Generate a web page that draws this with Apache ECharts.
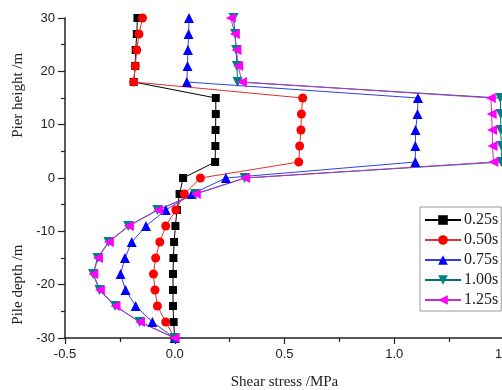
<!DOCTYPE html>
<html>
<head>
<meta charset="utf-8">
<script src="https://cdn.jsdelivr.net/npm/echarts@6/dist/echarts.min.js"></script>
<style>html,body{margin:0;padding:0;background:#fff;}#c{width:502px;height:390px;}</style>
</head>
<body>
<div id="c"></div>
<script>
// Depth / height positions (m)
const depth = [30,27,24,21,18,15,12,9,6,3,0,-3,-6,-9,-12,-15,-18,-21,-24,-27,-30];
// Shear stress (MPa) per time step
const s025 = [-0.170,-0.173,-0.178,-0.180,-0.187, 0.187,0.187,0.186,0.185,0.184, 0.038,0.022,0.010,0.003,-0.003,-0.006,-0.008,-0.008,-0.008,-0.005,0];
const s050 = [-0.147,-0.163,-0.173,-0.180,-0.187, 0.583,0.577,0.575,0.569,0.565, 0.117,0.044,0.005,-0.041,-0.068,-0.087,-0.097,-0.090,-0.079,-0.041,0];
const s075 = [0.065,0.063,0.060,0.058,0.055, 1.108,1.106,1.097,1.096,1.096, 0.233,0.078,-0.041,-0.131,-0.196,-0.227,-0.247,-0.224,-0.178,-0.102,0];
const s100 = [0.268,0.275,0.280,0.283,0.286, 1.483,1.485,1.485,1.488,1.488, 0.318,0.093,-0.079,-0.212,-0.302,-0.352,-0.372,-0.343,-0.272,-0.160,0];
const s125 = [0.255,0.274,0.281,0.289,0.306, 1.440,1.444,1.446,1.448,1.452, 0.321,0.096,-0.076,-0.209,-0.300,-0.350,-0.371,-0.341,-0.270,-0.158,0];
const seriesNames = ['0.25s','0.50s','0.75s','1.00s','1.25s'];
const xTicks = [-0.5, 1.5, 0.5];   // min, max, interval
const yTicks = [-30, 30, 10];

const sets = [s025, s050, s075, s100, s125];
const colors = ['#000000','#ff0000','#0000ff','#008080','#ff00ff'];
const lineColors = ['#000000','#e03030','#3040e0','#007070','#c030d0'];
const symbols = ['rect','circle','triangle','path://M0,0 L10,0 L5,10 Z','path://M0,5 L10,0 L10,10 Z'];
const sizes = [8,9,10,10,10];

const chart = echarts.init(document.getElementById('c'), null, {renderer:'canvas'});
const sans = 'Liberation Sans';
const serif = 'Liberation Serif';

const series = sets.map((arr, i) => ({
  name: seriesNames[i],
  type: 'line',
  data: arr.map((v, k) => [v, depth[k]]),
  symbol: symbols[i],
  symbolSize: sizes[i],
  showAllSymbol: true,
  clip: false,
  itemStyle: {color: colors[i]},
  lineStyle: {color: lineColors[i], width: 1},
  animation: false
}));

chart.setOption({
  animation: false,
  backgroundColor: '#fff',
  grid: {left: 65, right: -2, top: 18, bottom: 52, containLabel: false, outerBoundsMode: 'none'},
  xAxis: {
    type: 'value', min: xTicks[0], max: xTicks[1], interval: xTicks[2],
    axisLine: {show: true, onZero: false, lineStyle: {color: '#222', width: 1.5}},
    axisTick: {show: true, inside: false, length: 6, lineStyle: {color: '#222', width: 1.2}},
    minorTick: {show: true, splitNumber: 2, length: 4, lineStyle: {color: '#222', width: 1.2}},
    splitLine: {show: false},
    axisLabel: {margin: 10, fontFamily: sans, fontSize: 13, color: '#222', formatter: v => v.toFixed(1)},
    name: 'Shear stress /MPa', nameLocation: 'middle', nameGap: 37,
    nameTextStyle: {fontFamily: serif, fontSize: 15, color: '#222'}
  },
  yAxis: {
    type: 'value', min: yTicks[0], max: yTicks[1], interval: yTicks[2],
    axisLine: {show: true, onZero: false, lineStyle: {color: '#222', width: 1.5}},
    axisTick: {show: true, inside: false, length: 7, lineStyle: {color: '#222', width: 1.2}},
    minorTick: {show: true, splitNumber: 2, length: 4, lineStyle: {color: '#222', width: 1.2}},
    splitLine: {show: false},
    axisLabel: {margin: 10, fontFamily: sans, fontSize: 13, color: '#222'}
  },
  legend: {
    orient: 'vertical', left: 420, top: 207,
    itemWidth: 36, itemHeight: 12, itemGap: 4,
    padding: [5, 3, 3, 4],
    borderColor: '#999', borderWidth: 1, backgroundColor: '#fff',
    textStyle: {fontFamily: serif, fontSize: 16, color: '#222', padding: [0,0,0,-2]},
    data: seriesNames
  },
  series: series
});

// rotated y-axis titles placed via the axis scale
const yName = (txt, val) => {
  const p = chart.convertToPixel({gridIndex: 0}, [xTicks[0], val]);
  return {type: 'text', x: 18, y: p[1], rotation: Math.PI/2,
    style: {text: txt, font: '15px "Liberation Serif"', fill: '#222', align: 'center', verticalAlign: 'middle'}};
};
chart.setOption({graphic: [yName('Pier height /m', 15.5), yName('Pile depth /m', -20)]});
</script>
</body>
</html>
